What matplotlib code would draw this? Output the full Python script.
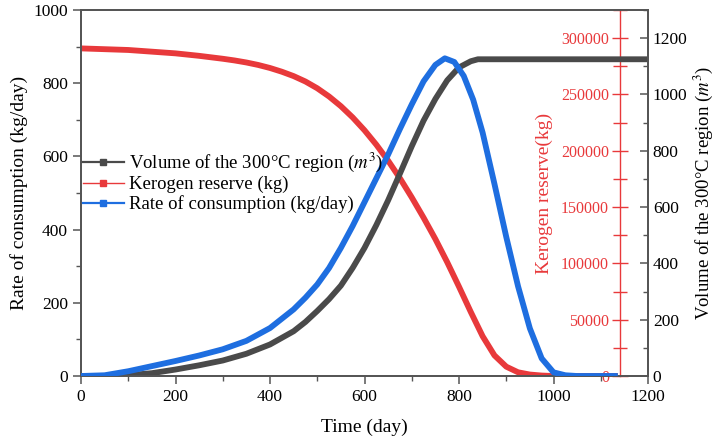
import numpy as np
import matplotlib
matplotlib.use("Agg")
import matplotlib.pyplot as plt
from matplotlib.lines import Line2D
from matplotlib.ticker import MultipleLocator

plt.rcParams['font.family'] = ['Liberation Serif', 'DejaVu Serif']
plt.rcParams['mathtext.fontset'] = 'stix'

# Rate of consumption (kg/day)
rate_day = [0, 50, 100, 150, 200, 250, 300, 350, 400, 450, 475, 500, 525, 550, 575,
            600, 625, 650, 675, 700, 725, 750, 770, 790, 810, 830, 850, 875, 900,
            925, 950, 975, 1000, 1025, 1050, 1130]
rate_val = [0, 2, 13, 27, 41, 56, 73, 96, 131, 182, 214, 250, 295, 350, 410,
            475, 540, 605, 675, 742, 805, 850, 868, 858, 820, 755, 665, 525, 380,
            245, 130, 48, 10, 2, 0, 0]

# Kerogen reserve (kg)
ker_day = [0, 100, 200, 250, 300, 325, 350, 375, 400, 425, 450, 475, 500, 525, 550,
           575, 600, 625, 650, 675, 700, 725, 750, 775, 800, 825, 850, 875, 900,
           925, 950, 975, 1000, 1130]
ker_val = [290900, 289500, 286500, 284300, 281700, 280200, 278400, 276200, 273500,
           270200, 266300, 261500, 255500, 248200, 239600, 229600, 218200, 205400,
           191200, 175600, 158600, 140600, 121600, 101100, 79300, 56800, 35300,
           18300, 8300, 3300, 1300, 400, 0, 0]

# Volume of the 300C region (m3)
vol_day = [0, 50, 100, 150, 200, 250, 300, 350, 400, 450, 475, 500, 525, 550, 575,
           600, 625, 650, 675, 700, 725, 750, 775, 800, 825, 840, 1200]
vol_val = [0, 0, 3, 10, 23, 38, 55, 79, 112, 159, 192, 231, 273, 321, 384,
           455, 536, 624, 719, 816, 907, 984, 1050, 1096, 1118, 1125, 1125]

c_gray = '#4a4a4a'
c_red = '#e8393b'
c_blue = '#1e6ee0'
c_axis = '#555555'

fig = plt.figure(figsize=(7.17, 4.41), dpi=100)
ax = fig.add_axes([81/717, 65/441, 567/717, 366/441])
ax2 = ax.twinx()
ax3 = ax.twinx()

lw = 4.2
ax.plot(rate_day, rate_val, color=c_blue, lw=lw, solid_joinstyle='round', zorder=3)
ax2.plot(vol_day, vol_val, color=c_gray, lw=lw, solid_joinstyle='round', zorder=2)
ax3.plot(ker_day, ker_val, color=c_red, lw=lw, solid_joinstyle='round', zorder=1)
ax.set_zorder(3)
ax.patch.set_visible(False)
ax2.set_zorder(2)
ax3.set_zorder(1)

ax.set_xlim(0, 1200)
ax.set_ylim(0, 1000)
ax2.set_ylim(0, 1300)
ax3.set_ylim(0, 325000)

ax.xaxis.set_major_locator(MultipleLocator(200))
ax.xaxis.set_minor_locator(MultipleLocator(100))
ax.yaxis.set_major_locator(MultipleLocator(200))
ax.yaxis.set_minor_locator(MultipleLocator(100))
ax2.yaxis.set_major_locator(MultipleLocator(200))
ax2.yaxis.set_minor_locator(MultipleLocator(100))
ax3.set_yticks([0, 50000, 100000, 150000, 200000, 250000, 300000])
ax3.yaxis.set_minor_locator(MultipleLocator(25000))

for s in list(ax.spines.values()) + list(ax2.spines.values()):
    s.set_color(c_axis)
    s.set_linewidth(1.3)

ax.tick_params(axis='both', which='major', direction='out', length=6, width=1.1,
               colors=c_axis, labelcolor='black', labelsize=12.5, top=False, right=False)
ax.tick_params(axis='both', which='minor', direction='out', length=3.5, width=1.0,
               colors=c_axis, top=False, right=False)
ax2.tick_params(axis='y', which='major', direction='in', length=6, width=1.1,
                colors=c_axis, labelcolor='black', labelsize=12.5)
ax2.tick_params(axis='y', which='minor', direction='in', length=3.5, width=1.0, colors=c_axis)

# kerogen axis: spine inside the frame, labels on its left
for k in ['top', 'bottom', 'right']:
    ax3.spines[k].set_visible(False)
ax3.spines['left'].set_visible(True)
ax3.spines['left'].set_position(('axes', 0.951))
ax3.spines['left'].set_color(c_red)
ax3.spines['left'].set_linewidth(1.0)
ax3.yaxis.set_ticks_position('left')
ax3.yaxis.set_label_position('left')
ax3.tick_params(axis='y', which='major', direction='inout', length=12, width=1.0,
                colors=c_red, labelsize=11.5, pad=2)
ax3.tick_params(axis='y', which='minor', direction='inout', length=10, width=1.0,
                colors=c_red)
ax3.set_ylabel('Kerogen reserve(kg)', color=c_red, fontsize=14, labelpad=6)

ax.set_xlabel('Time (day)', fontsize=14, labelpad=10)
ax.set_ylabel('Rate of consumption (kg/day)', fontsize=14, labelpad=4)
ax2.set_ylabel(r'Volume of the 300°C region ($m^3$)', fontsize=13.5, labelpad=3)

handles = [
    Line2D([], [], color=c_gray, lw=1.6, marker='s', markersize=4),
    Line2D([], [], color=c_red, lw=1.0, marker='s', markersize=4),
    Line2D([], [], color=c_blue, lw=1.6, marker='s', markersize=4),
]
labels = [r'Volume of the 300°C region ($m^3$)', 'Kerogen reserve (kg)',
          'Rate of consumption (kg/day)']
ax.legend(handles, labels, loc='center left', bbox_to_anchor=(-0.01, 0.53),
          frameon=False, fontsize=13.5, handlelength=2.2, handletextpad=0.25,
          labelspacing=0.1, borderaxespad=0)

fig.savefig('out.png', dpi=100)
